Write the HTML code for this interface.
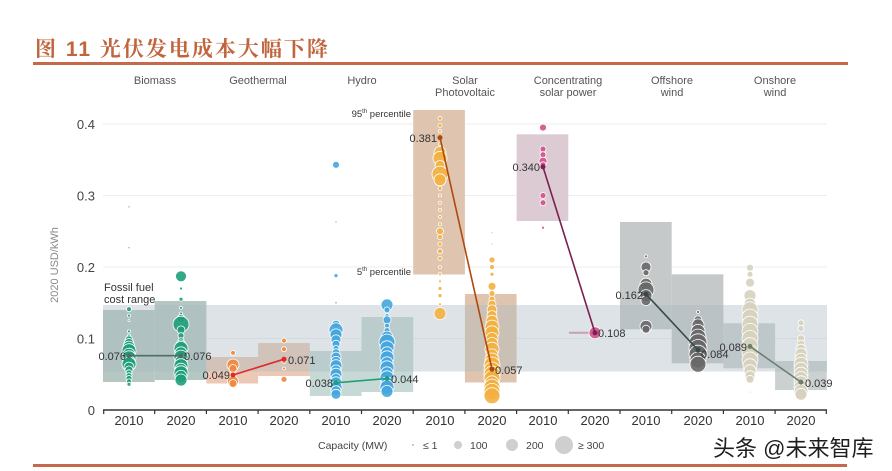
<!DOCTYPE html>
<html><head><meta charset="utf-8">
<style>
html,body{margin:0;padding:0;background:#fff;}
body{width:892px;height:471px;overflow:hidden;position:relative;}
svg{position:absolute;left:0;top:0;}
text{font-family:"Liberation Sans","Noto Sans CJK SC",sans-serif;}
</style></head>
<body>
<svg width="892" height="471" viewBox="0 0 892 471" xmlns="http://www.w3.org/2000/svg">
<rect width="892" height="471" fill="#fff"/>
<!-- title -->
<text x="35" y="56" font-size="21" font-weight="bold" fill="#c0653e" letter-spacing="2" style="font-family:'Liberation Sans','Noto Serif CJK SC',serif">图 11 光伏发电成本大幅下降</text>
<rect x="33" y="62" width="815" height="3" fill="#c5694a"/>
<rect x="33" y="464" width="814" height="3" fill="#c5694a"/>

<!-- category labels -->
<g font-size="11" fill="#555" text-anchor="middle">
<text x="155" y="84">Biomass</text>
<text x="258" y="84">Geothermal</text>
<text x="362" y="84">Hydro</text>
<text x="465" y="84">Solar</text>
<text x="465" y="96">Photovoltaic</text>
<text x="568" y="84">Concentrating</text>
<text x="568" y="96">solar power</text>
<text x="672" y="84">Offshore</text>
<text x="672" y="96">wind</text>
<text x="775" y="84">Onshore</text>
<text x="775" y="96">wind</text>
</g>

<!-- gridlines -->
<g stroke="#eeeeee" stroke-width="1">
<line x1="103" y1="124" x2="827" y2="124"/>
<line x1="103" y1="195.5" x2="827" y2="195.5"/>
<line x1="103" y1="267" x2="827" y2="267"/>
<line x1="103" y1="338.5" x2="827" y2="338.5"/>
</g>

<!-- y tick labels -->
<g font-size="13" fill="#444" text-anchor="end">
<text x="95" y="129">0.4</text>
<text x="95" y="200.5">0.3</text>
<text x="95" y="272">0.2</text>
<text x="95" y="343.5">0.1</text>
<text x="95" y="415">0</text>
</g>
<text transform="translate(58,265) rotate(-90)" font-size="11" fill="#8a8a8a" text-anchor="middle">2020 USD/kWh</text>

<!-- percentile boxes -->
<rect x="103" y="310" width="51.7" height="72" fill="#b4c7c1"/>
<rect x="154.7" y="301" width="51.7" height="79" fill="#b4c7c1"/>
<rect x="206.4" y="357" width="51.7" height="26.5" fill="#ecc9b6"/>
<rect x="258.1" y="343" width="51.7" height="33" fill="#ecc9b6"/>
<rect x="309.8" y="351" width="51.7" height="45" fill="#c6d9d6"/>
<rect x="361.5" y="317" width="51.7" height="75" fill="#c6d9d6"/>
<rect x="413.2" y="110" width="51.7" height="164.5" fill="#dfc5b0"/>
<rect x="464.9" y="294" width="51.7" height="88.5" fill="#dfc5b0"/>
<rect x="516.6" y="134.3" width="51.7" height="86.7" fill="#dccbd3"/>
<rect x="620" y="222" width="51.7" height="107.3" fill="#c6c9ca"/>
<rect x="671.7" y="274.3" width="51.7" height="89" fill="#c6c9ca"/>
<rect x="723.4" y="323.3" width="51.7" height="45" fill="#cbd0d0"/>
<rect x="775.1" y="361" width="51.7" height="29" fill="#cbd0d0"/>

<!-- fossil fuel band -->
<rect x="103" y="305" width="724" height="66.5" fill="rgb(170,185,192)" fill-opacity="0.4"/>
<text x="104" y="291" font-size="11" fill="#333">Fossil fuel</text>
<text x="104" y="303" font-size="11" fill="#333">cost range</text>

<!-- percentile labels -->
<text x="411" y="117" font-size="9.5" fill="#333" text-anchor="end">95<tspan font-size="6" dy="-4">th</tspan><tspan dy="4"> percentile</tspan></text>
<text x="411" y="275" font-size="9.5" fill="#333" text-anchor="end">5<tspan font-size="6" dy="-4">th</tspan><tspan dy="4"> percentile</tspan></text>

<!-- bubbles -->
<g stroke="#fff" stroke-width="0.8" fill-opacity="0.9">
<!-- Biomass 2010 -->
<g fill="#1f9e7a">
<circle cx="129" cy="206.9" r="1"/><circle cx="129" cy="247.7" r="1"/><circle cx="129" cy="309.2" r="2.5"/><circle cx="129" cy="315.6" r="1.5"/><circle cx="129" cy="320.6" r="1"/><circle cx="129" cy="331.4" r="1.5"/><circle cx="129" cy="335.6" r="1.5"/>
<circle cx="129" cy="339.9" r="4"/><circle cx="129" cy="343.5" r="5"/><circle cx="129" cy="347.1" r="6"/><circle cx="129" cy="350.7" r="7"/><circle cx="129" cy="354.2" r="6"/><circle cx="129" cy="357.8" r="7"/><circle cx="129" cy="361.4" r="6"/><circle cx="129" cy="364.2" r="7"/><circle cx="129" cy="367.1" r="5"/><circle cx="129" cy="370" r="4"/><circle cx="129" cy="372.8" r="3"/><circle cx="129" cy="375.7" r="3"/><circle cx="129" cy="378.5" r="3"/><circle cx="129" cy="381.4" r="2.5"/><circle cx="129" cy="384.3" r="2"/>
</g>
<!-- Biomass 2020 -->
<g fill="#1f9e7a">
<circle cx="181" cy="276.3" r="5.5"/><circle cx="181" cy="288.5" r="1.5"/><circle cx="181" cy="299.2" r="2"/><circle cx="181" cy="307.8" r="1.5"/><circle cx="181" cy="313.5" r="1.5"/><circle cx="181" cy="318.5" r="4"/><circle cx="181" cy="324.2" r="8"/><circle cx="181" cy="329.9" r="4"/><circle cx="181" cy="335.6" r="3"/><circle cx="181" cy="340.6" r="3"/><circle cx="181" cy="344.9" r="5"/><circle cx="181" cy="348.5" r="7"/><circle cx="181" cy="352.8" r="6"/><circle cx="181" cy="357.1" r="7"/><circle cx="181" cy="361.4" r="6"/><circle cx="181" cy="365.7" r="7"/><circle cx="181" cy="369.2" r="6"/><circle cx="181" cy="372.8" r="7"/><circle cx="181" cy="376.4" r="6"/><circle cx="181" cy="380" r="6"/>
</g>
<!-- Geothermal -->
<g fill="#f0883c">
<circle cx="233" cy="352.8" r="2.5"/><circle cx="233" cy="365" r="6"/><circle cx="233" cy="368.5" r="4"/><circle cx="233" cy="375" r="3"/><circle cx="233" cy="381.4" r="5.5"/><circle cx="233" cy="383.5" r="4"/>
<circle cx="284" cy="340.6" r="2.5"/><circle cx="284" cy="349.2" r="2.5"/><circle cx="284" cy="361.4" r="2"/><circle cx="284" cy="368.5" r="1.5"/><circle cx="284" cy="379.3" r="3"/>
</g>
<!-- Hydro -->
<g fill="#45a5de">
<circle cx="336" cy="164.8" r="3.5"/><circle cx="336" cy="222" r="1"/><circle cx="336" cy="275.6" r="2"/><circle cx="336" cy="302.8" r="1.2"/><circle cx="336" cy="324.2" r="4"/><circle cx="336" cy="329.9" r="7"/><circle cx="336" cy="334.9" r="6"/><circle cx="336" cy="339.9" r="5"/><circle cx="336" cy="344.2" r="4"/><circle cx="336" cy="348.5" r="3"/><circle cx="336" cy="352.8" r="4"/><circle cx="336" cy="357.1" r="5"/><circle cx="336" cy="361.4" r="5"/><circle cx="336" cy="365.7" r="6"/><circle cx="336" cy="370" r="5"/><circle cx="336" cy="374.2" r="6"/><circle cx="336" cy="378.5" r="5"/><circle cx="336" cy="382.8" r="6"/><circle cx="336" cy="387.1" r="6"/><circle cx="336" cy="390.7" r="5"/><circle cx="336" cy="394.3" r="5"/>
<circle cx="387" cy="304.9" r="6"/><circle cx="387" cy="309.9" r="3"/><circle cx="387" cy="315.6" r="2"/><circle cx="387" cy="319.9" r="4"/><circle cx="387" cy="325.6" r="2.5"/><circle cx="387" cy="330.6" r="3"/><circle cx="387" cy="337.1" r="6"/><circle cx="387" cy="342.1" r="8"/><circle cx="387" cy="347.8" r="7"/><circle cx="387" cy="352.8" r="6"/><circle cx="387" cy="357.8" r="7"/><circle cx="387" cy="362.8" r="6"/><circle cx="387" cy="367.8" r="7"/><circle cx="387" cy="372.8" r="6"/><circle cx="387" cy="377.8" r="7"/><circle cx="387" cy="382.8" r="6"/><circle cx="387" cy="387.1" r="7"/><circle cx="387" cy="391.4" r="6"/>
</g>
<!-- Solar PV -->
<g fill="#f3b040">
<circle cx="440" cy="118.3" r="2"/><circle cx="440" cy="125.4" r="2"/><circle cx="440" cy="131.2" r="1.5"/><circle cx="440" cy="144" r="1.5"/><circle cx="440" cy="152.6" r="6"/><circle cx="440" cy="158.3" r="7"/><circle cx="440" cy="165.5" r="5"/><circle cx="440" cy="174.1" r="8"/><circle cx="440" cy="179.8" r="6"/><circle cx="440" cy="188.4" r="2"/><circle cx="440" cy="195.5" r="1.5"/><circle cx="440" cy="202.7" r="1.5"/><circle cx="440" cy="209.8" r="1.5"/><circle cx="440" cy="216.9" r="1.5"/><circle cx="440" cy="224.1" r="1.5"/><circle cx="440" cy="231.3" r="3.5"/><circle cx="440" cy="237" r="2.5"/><circle cx="440" cy="244.1" r="2"/><circle cx="440" cy="251.3" r="2.5"/><circle cx="440" cy="258.4" r="2"/><circle cx="440" cy="267" r="1.5"/><circle cx="440" cy="274.2" r="1.5"/><circle cx="440" cy="281.3" r="1.5"/><circle cx="440" cy="288.5" r="2"/><circle cx="440" cy="295.6" r="2"/><circle cx="440" cy="304.2" r="1.5"/><circle cx="440" cy="313.5" r="6"/>
<circle cx="492" cy="232.7" r="1"/><circle cx="492" cy="244.1" r="1"/><circle cx="492" cy="259.9" r="3"/><circle cx="492" cy="267" r="2.5"/><circle cx="492" cy="274.2" r="2"/><circle cx="492" cy="286.3" r="4"/><circle cx="492" cy="293.5" r="3"/><circle cx="492" cy="299.2" r="3"/><circle cx="492" cy="304.2" r="4"/><circle cx="492" cy="309.9" r="5"/><circle cx="492" cy="315.6" r="5"/><circle cx="492" cy="321.3" r="6"/><circle cx="492" cy="327.1" r="7"/><circle cx="492" cy="332.8" r="7"/><circle cx="492" cy="338.5" r="6"/><circle cx="492" cy="343.5" r="6"/><circle cx="492" cy="349.2" r="7"/><circle cx="492" cy="354.9" r="6"/><circle cx="492" cy="360" r="7"/><circle cx="492" cy="365" r="8"/><circle cx="492" cy="370" r="8"/><circle cx="492" cy="374.2" r="8"/><circle cx="492" cy="378.5" r="8"/><circle cx="492" cy="382.8" r="7"/><circle cx="492" cy="387.1" r="8"/><circle cx="492" cy="391.4" r="8"/><circle cx="492" cy="395.7" r="8"/>
</g>
<!-- CSP -->
<g fill="#d2508a">
<circle cx="543" cy="127.6" r="3.5"/><circle cx="543" cy="149" r="3"/><circle cx="543" cy="154.7" r="3"/><circle cx="543" cy="161.2" r="4"/><circle cx="543" cy="164.8" r="3"/><circle cx="543" cy="195.5" r="3"/><circle cx="543" cy="202.7" r="3"/><circle cx="543" cy="227.7" r="1.5"/>
</g>
<line x1="569" y1="332.8" x2="592" y2="332.8" stroke="#c8a0b4" stroke-width="2"/>
<circle cx="595" cy="332.8" r="6" fill="#d2508a"/>
<!-- Offshore -->
<g fill="#686868">
<circle cx="646" cy="256.3" r="1.5"/><circle cx="646" cy="267" r="5"/><circle cx="646" cy="272.7" r="3"/><circle cx="646" cy="284.2" r="6"/><circle cx="646" cy="289.9" r="8"/><circle cx="646" cy="295.6" r="6"/><circle cx="646" cy="300.6" r="5"/><circle cx="646" cy="326.3" r="6"/><circle cx="646" cy="329.2" r="4"/>
<circle cx="698" cy="312" r="1.5"/><circle cx="698" cy="319.9" r="4"/><circle cx="698" cy="324.9" r="6"/><circle cx="698" cy="331.4" r="7"/><circle cx="698" cy="337.1" r="8"/><circle cx="698" cy="342.8" r="9"/><circle cx="698" cy="348.5" r="9"/><circle cx="698" cy="354.2" r="9"/><circle cx="698" cy="360" r="8"/><circle cx="698" cy="364.2" r="8"/>
</g>
<!-- Onshore -->
<g fill="#d6d2bd">
<circle cx="750" cy="267.7" r="3.5"/><circle cx="750" cy="274.2" r="3"/><circle cx="750" cy="282.7" r="4.5"/><circle cx="750" cy="295.6" r="6"/><circle cx="750" cy="304.2" r="6"/><circle cx="750" cy="309.9" r="8"/><circle cx="750" cy="317.1" r="8"/><circle cx="750" cy="324.2" r="8"/><circle cx="750" cy="331.4" r="8"/><circle cx="750" cy="338.5" r="8"/><circle cx="750" cy="345.7" r="8"/><circle cx="750" cy="352.8" r="8"/><circle cx="750" cy="360" r="8"/><circle cx="750" cy="365.7" r="7"/><circle cx="750" cy="370.7" r="6"/><circle cx="750" cy="375.7" r="5"/><circle cx="750" cy="379.3" r="4"/><circle cx="750" cy="392.1" r="1"/>
<circle cx="801" cy="322.8" r="3"/><circle cx="801" cy="328.5" r="3"/><circle cx="801" cy="338.5" r="3.5"/><circle cx="801" cy="344.2" r="4"/><circle cx="801" cy="349.2" r="5"/><circle cx="801" cy="354.2" r="6"/><circle cx="801" cy="359.2" r="6"/><circle cx="801" cy="364.2" r="7"/><circle cx="801" cy="369.2" r="7"/><circle cx="801" cy="374.2" r="7"/><circle cx="801" cy="378.5" r="7"/><circle cx="801" cy="382.8" r="7"/><circle cx="801" cy="387.1" r="7"/><circle cx="801" cy="391.4" r="7"/><circle cx="801" cy="394.3" r="6"/>
</g>
</g>

<!-- median lines -->
<g stroke-width="1.6" fill="none">
<line x1="129" y1="355.7" x2="181" y2="355.7" stroke="#4d6e62"/>
<line x1="233" y1="375" x2="284" y2="359.2" stroke="#e02a2a"/>
<line x1="336" y1="382.8" x2="387" y2="378.5" stroke="#1f9e78"/>
<line x1="440" y1="137.6" x2="492" y2="369.2" stroke="#b0480e"/>
<line x1="543" y1="166.9" x2="595" y2="332.8" stroke="#7a1f52"/>
<line x1="646" y1="294.2" x2="698" y2="350" stroke="#37494a"/>
<line x1="750" y1="346.4" x2="801" y2="382.1" stroke="#6a7f72"/>
</g>
<g>
<circle cx="129" cy="355.7" r="2.5" fill="#4d6e62"/><circle cx="181" cy="355.7" r="2.5" fill="#4d6e62"/>
<circle cx="233" cy="375" r="2.5" fill="#e02a2a"/><circle cx="284" cy="359.2" r="2.5" fill="#e02a2a"/>
<circle cx="336" cy="382.8" r="2.5" fill="#1f9e78"/><circle cx="387" cy="378.5" r="2.5" fill="#1f9e78"/>
<circle cx="440" cy="137.6" r="2.5" fill="#b0480e"/><circle cx="492" cy="369.2" r="2.5" fill="#b0480e"/>
<circle cx="543" cy="166.9" r="2.5" fill="#7a1f52"/><circle cx="595" cy="332.8" r="2.5" fill="#7a1f52"/>
<circle cx="646" cy="294.2" r="2.5" fill="#37494a"/><circle cx="698" cy="350" r="2.5" fill="#37494a"/>
<circle cx="750" cy="346.4" r="2.5" fill="#6a7f72"/><circle cx="801" cy="382.1" r="2.5" fill="#6a7f72"/>
</g>

<!-- value labels -->
<g font-size="11" fill="#333">
<text x="126" y="360" text-anchor="end">0.076</text>
<text x="184" y="360">0.076</text>
<text x="230" y="379" text-anchor="end">0.049</text>
<text x="288" y="364">0.071</text>
<text x="333" y="387" text-anchor="end">0.038</text>
<text x="391" y="383">0.044</text>
<text x="437" y="142" text-anchor="end">0.381</text>
<text x="495" y="374">0.057</text>
<text x="540" y="171" text-anchor="end">0.340</text>
<text x="598" y="337">0.108</text>
<text x="643" y="299" text-anchor="end">0.162</text>
<text x="701" y="358">0.084</text>
<text x="747" y="351" text-anchor="end">0.089</text>
<text x="805" y="387">0.039</text>
</g>

<!-- x axis -->
<line x1="103" y1="410" x2="827" y2="410" stroke="#333" stroke-width="1.5"/>
<g stroke="#333" stroke-width="1.2">
<line x1="103.7" y1="410" x2="103.7" y2="414"/><line x1="154.7" y1="410" x2="154.7" y2="414"/><line x1="206.4" y1="410" x2="206.4" y2="414"/><line x1="258.1" y1="410" x2="258.1" y2="414"/><line x1="309.8" y1="410" x2="309.8" y2="414"/><line x1="361.5" y1="410" x2="361.5" y2="414"/><line x1="413.2" y1="410" x2="413.2" y2="414"/><line x1="464.9" y1="410" x2="464.9" y2="414"/><line x1="516.6" y1="410" x2="516.6" y2="414"/><line x1="568.3" y1="410" x2="568.3" y2="414"/><line x1="620" y1="410" x2="620" y2="414"/><line x1="671.7" y1="410" x2="671.7" y2="414"/><line x1="723.4" y1="410" x2="723.4" y2="414"/><line x1="775.1" y1="410" x2="775.1" y2="414"/><line x1="826.3" y1="410" x2="826.3" y2="414"/>
</g>
<g font-size="13" fill="#333" text-anchor="middle">
<text x="129" y="425">2010</text><text x="181" y="425">2020</text>
<text x="233" y="425">2010</text><text x="284" y="425">2020</text>
<text x="336" y="425">2010</text><text x="387" y="425">2020</text>
<text x="440" y="425">2010</text><text x="492" y="425">2020</text>
<text x="543" y="425">2010</text><text x="595" y="425">2020</text>
<text x="646" y="425">2010</text><text x="698" y="425">2020</text>
<text x="750" y="425">2010</text><text x="801" y="425">2020</text>
</g>

<!-- legend -->
<g font-size="10.5" fill="#444">
<text x="318" y="449">Capacity (MW)</text>
<circle cx="413" cy="445" r="1" fill="#bbb"/>
<text x="423" y="449">≤ 1</text>
<circle cx="458" cy="445" r="4" fill="#cfcfcf"/>
<text x="470" y="449">100</text>
<circle cx="512" cy="445" r="6" fill="#cfcfcf"/>
<text x="526" y="449">200</text>
<circle cx="564" cy="445" r="9" fill="#cfcfcf"/>
<text x="578" y="449">≥ 300</text>
</g>

<!-- watermark -->
<text x="713" y="456" font-size="22" fill="#1e1e1e" stroke="#fff" stroke-width="3" paint-order="stroke" style="font-family:'Liberation Sans','WenQuanYi Zen Hei','Noto Sans CJK SC',sans-serif">头条 @未来智库</text>
</svg>
</body></html>
